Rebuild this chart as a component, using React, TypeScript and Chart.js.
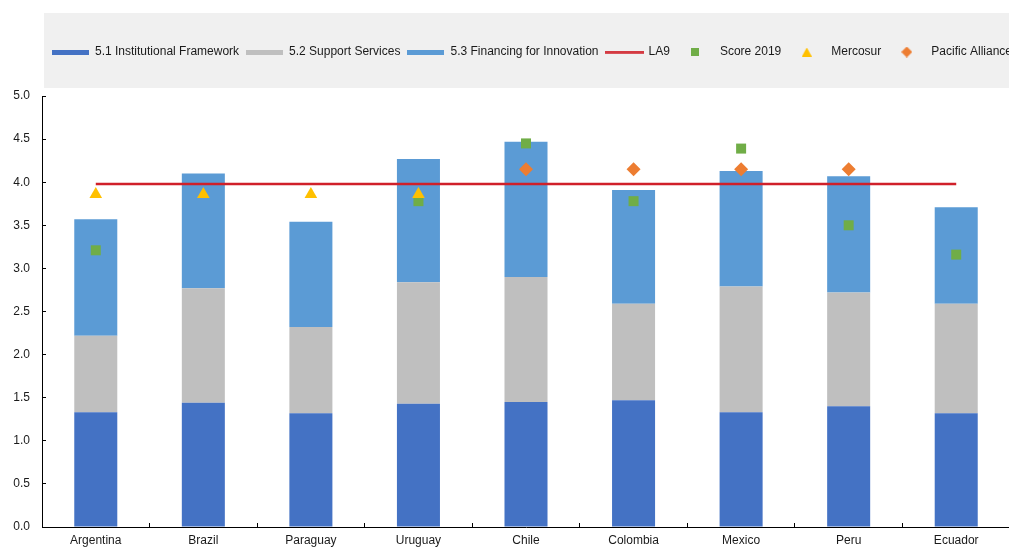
import React, { useEffect, useRef } from 'react';
import { Chart, registerables } from 'chart.js';

Chart.register(...registerables);

// Categories
const countries = ['Argentina', 'Brazil', 'Paraguay', 'Uruguay', 'Chile', 'Colombia', 'Mexico', 'Peru', 'Ecuador'];

// Stacked sub-dimension scores
const institutionalFramework = [1.33, 1.44, 1.32, 1.43, 1.45, 1.47, 1.33, 1.40, 1.32];
const supportServices = [0.89, 1.33, 1.00, 1.41, 1.45, 1.12, 1.46, 1.32, 1.27];
const financingForInnovation = [1.35, 1.33, 1.22, 1.43, 1.57, 1.32, 1.34, 1.35, 1.12];

// Reference markers
const la9 = [3.98, 3.98, 3.98, 3.98, 3.98, 3.98, 3.98, 3.98, 3.98];
const score2019 = [3.21, null, null, 3.78, 4.45, 3.78, 4.39, 3.50, 3.16];
const mercosur = [3.86, 3.86, 3.86, 3.86, null, null, null, null, null];
const pacificAlliance = [null, null, null, null, 4.15, 4.15, 4.15, 4.15, null];

// Axis range
const yMin = 0;
const yMax = 5;
const yStep = 0.5;

const COLORS = {
  inst: '#4472C4',
  supp: '#BFBFBF',
  fin: '#5B9BD5',
  la9: '#D0202A',
  score: '#70AD47',
  mercosur: '#FFC000',
  pacific: '#ED7D31',
};

const CANVAS_W = 1100;
const CANVAS_H = 548;
const PLOT_LEFT = 42;
const PLOT_RIGHT = 1010;
const PANEL_LEFT = 44;
const LEGEND_LEFT = 45;
const FONT = "'Liberation Sans', Arial, Helvetica, sans-serif";
const TEXT = '#1a1a1a';

function mark(w: number, h: number, draw: (ctx: CanvasRenderingContext2D) => void) {
  const c = document.createElement('canvas');
  c.width = w;
  c.height = h;
  const ctx = c.getContext('2d')!;
  draw(ctx);
  return c;
}

export default function App() {
  const ref = useRef<HTMLCanvasElement>(null);

  useEffect(() => {
    const canvas = ref.current;
    if (!canvas) return;

    const bar = (color: string) =>
      mark(37, 5, (ctx) => {
        ctx.fillStyle = color;
        ctx.fillRect(0, 0, 37, 5);
      });
    const legendMarks = [
      bar(COLORS.inst),
      bar(COLORS.supp),
      bar(COLORS.fin),
      mark(39, 3, (ctx) => {
        ctx.fillStyle = COLORS.la9;
        ctx.fillRect(0, 0.25, 39, 2.5);
      }),
      mark(8, 8, (ctx) => {
        ctx.fillStyle = COLORS.score;
        ctx.fillRect(0, 0, 8, 8);
      }),
      mark(10, 9, (ctx) => {
        ctx.fillStyle = COLORS.mercosur;
        ctx.beginPath();
        ctx.moveTo(5, 0);
        ctx.lineTo(10, 9);
        ctx.lineTo(0, 9);
        ctx.closePath();
        ctx.fill();
      }),
      mark(11, 11, (ctx) => {
        ctx.fillStyle = COLORS.pacific;
        ctx.beginPath();
        ctx.moveTo(5.5, 0);
        ctx.lineTo(11, 5.5);
        ctx.lineTo(5.5, 11);
        ctx.lineTo(0, 5.5);
        ctx.closePath();
        ctx.fill();
      }),
    ];

    // Grey panel behind the legend; the legend row starts just inside the panel
    const legendPanel = {
      id: 'legendPanel',
      afterLayout(chart: any) {
        const lg = chart.legend;
        if (lg) {
          const w = lg.right - lg.left;
          lg.left = LEGEND_LEFT;
          lg.right = LEGEND_LEFT + w;
        }
      },
      beforeDraw(chart: any) {
        const { ctx } = chart;
        ctx.save();
        ctx.fillStyle = '#F0F0F0';
        ctx.fillRect(PANEL_LEFT, 13, chart.width - PANEL_LEFT, 75);
        ctx.restore();
      },
    };

    const pointSet = (label: string, data: (number | null)[], style: string, radius: number, color: string, order: number) => ({
      type: 'line' as const,
      label,
      data,
      showLine: false,
      pointStyle: style,
      pointRadius: radius,
      pointHoverRadius: radius,
      pointBorderWidth: 0,
      backgroundColor: color,
      borderColor: color,
      stack: label,
      order,
    });

    const chart = new Chart(canvas, {
      type: 'bar',
      data: {
        labels: countries,
        datasets: [
          { label: '5.1 Institutional Framework', data: institutionalFramework, backgroundColor: COLORS.inst, stack: 'bars', order: 10, barPercentage: 0.4, categoryPercentage: 1 },
          { label: '5.2 Support Services', data: supportServices, backgroundColor: COLORS.supp, stack: 'bars', order: 10, barPercentage: 0.4, categoryPercentage: 1 },
          { label: '5.3 Financing for Innovation', data: financingForInnovation, backgroundColor: COLORS.fin, stack: 'bars', order: 10, barPercentage: 0.4, categoryPercentage: 1 },
          {
            type: 'line',
            label: 'LA9',
            data: la9,
            borderColor: COLORS.la9,
            backgroundColor: COLORS.la9,
            borderWidth: 2.5,
            pointRadius: 0,
            pointHoverRadius: 0,
            fill: false,
            stack: 'LA9',
            order: 3,
          },
          pointSet('Score 2019', score2019, 'rect', 7.07, COLORS.score, 2),
          pointSet('Mercosur', mercosur, 'triangle', 7.3, COLORS.mercosur, 1),
          pointSet('Pacific Alliance', pacificAlliance, 'rectRot', 7, COLORS.pacific, 0),
        ] as any,
      },
      options: {
        responsive: false,
        animation: false,
        layout: { padding: { left: 0, top: 39, right: 0, bottom: 0 } },
        plugins: {
          tooltip: { enabled: false },
          legend: {
            position: 'top',
            align: 'start',
            weight: 1000,
            labels: {
              usePointStyle: true,
              pointStyleWidth: 37,
              padding: 7,
              color: TEXT,
              font: { family: FONT, size: 12 },
              sort: (a: any, b: any) => a.datasetIndex - b.datasetIndex,
              generateLabels: (c: any) =>
                (Chart.defaults.plugins.legend.labels.generateLabels as any)(c).map((it: any) => ({
                  ...it,
                  pointStyle: legendMarks[it.datasetIndex],
                })),
            },
          } as any,
          title: {
            display: true,
            text: ' ',
            position: 'top',
            weight: 500,
            font: { family: FONT, size: 10, lineHeight: 1 },
            padding: { top: 0, bottom: 18 },
          } as any,
        },
        scales: {
          x: {
            stacked: true,
            grid: { drawOnChartArea: false, drawTicks: true, tickLength: -4, color: '#000', offset: true },
            border: { display: true, color: '#000', width: 1 },
            ticks: { color: TEXT, font: { family: FONT, size: 12 }, padding: 10, maxRotation: 0, autoSkip: false },
            afterFit: (s: any) => {
              s.height = 21;
            },
          },
          y: {
            stacked: true,
            min: yMin,
            max: yMax,
            grid: { drawOnChartArea: false, drawTicks: true, tickLength: -4, color: '#000' },
            border: { display: true, color: '#000', width: 1 },
            ticks: {
              stepSize: yStep,
              color: TEXT,
              // compact line height keeps the end-label overhang inside the x-axis band
              font: { family: FONT, size: 12, lineHeight: 0.8 },
              padding: 16,
              callback: (v: any) => Number(v).toFixed(1),
            },
            afterFit: (s: any) => {
              s.width = PLOT_LEFT;
            },
          },
          yRight: {
            type: 'linear',
            position: 'right',
            display: true,
            grid: { display: false, drawTicks: false },
            border: { display: false },
            ticks: { display: false },
            afterFit: (s: any) => {
              s.width = CANVAS_W - PLOT_RIGHT;
            },
          },
        } as any,
      },
      plugins: [legendPanel],
    });

    return () => chart.destroy();
  }, []);

  return (
    <div style={{ position: 'absolute', left: 0, top: 0, width: 1009, height: 548, overflow: 'hidden', background: '#fff' }}>
      <canvas ref={ref} width={CANVAS_W} height={CANVAS_H} style={{ display: 'block' }} />
    </div>
  );
}
